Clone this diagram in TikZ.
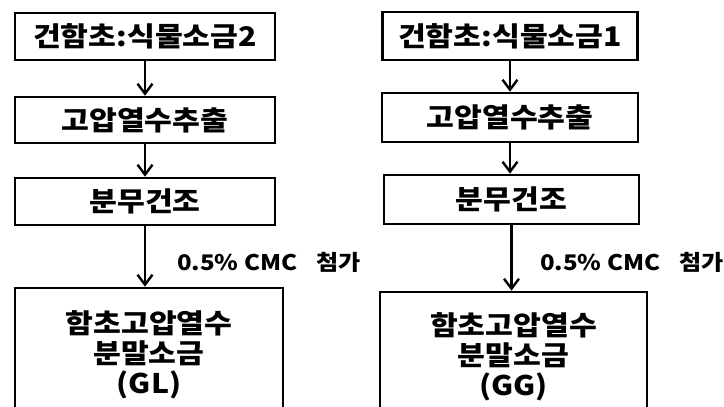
\documentclass[tikz,border=0pt]{standalone}
\usepackage{fontspec}
\setmainfont{Noto Sans CJK KR}[FakeStretch=1.12]
\usetikzlibrary{arrows.meta}
\tikzset{
  box/.style={draw, line width=2.6pt, inner sep=0pt, align=center,
    font=\bfseries\fontsize{27}{30}\selectfont},
  flow/.style={line width=2.4pt, -{Straight Barb[length=10pt,width=15pt,line width=2.4pt]}},
  lbl/.style={anchor=west, inner sep=0pt, font=\bfseries\fontsize{21.5}{24}\selectfont}
}
\begin{document}
\begin{tikzpicture}[x=1pt,y=-1pt]
\clip (0,0) rectangle (724,407);
\fill[white] (0,0) rectangle (724,407);
% left column
\node[box, minimum width=260pt, minimum height=47pt] (L1) at (145,36.5) {건함초:식물소금2};
\node[box, minimum width=260pt, minimum height=46pt] (L2) at (145,120) {고압열수추출};
\node[box, minimum width=260pt, minimum height=47pt] (L3) at (145,201.5) {분무건조};
\node[box, minimum width=268pt, minimum height=134pt] (L4) at (149,355) {함초고압열수\\분말소금\\(GL)};
\draw[flow] (L1.south) -- (L2.north);
\draw[flow] (L2.south) -- (L3.north);
\draw[flow] (L3.south) -- (L3.south |- L4.north);
\node[lbl] (La) at (177,262) {0.5\% CMC\hspace{0.9em}첨가};
% right column
\node[box, minimum width=255pt, minimum height=48pt] (R1) at (510,36) {건함초:식물소금1};
\node[box, minimum width=256pt, minimum height=49pt] (R2) at (510,117.5) {고압열수추출};
\node[box, minimum width=255pt, minimum height=49pt] (R3) at (511.5,199.5) {분무건조};
\node[box, minimum width=267pt, minimum height=130pt] (R4) at (513.5,357) {함초고압열수\\분말소금\\(GG)};
\draw[flow] (R1.south) -- (R2.north);
\draw[flow] (R2.south) -- (R2.south |- R3.north);
\draw[flow] (R3.south) -- (R3.south |- R4.north);
\node[lbl] (Ra) at (540,262) {0.5\% CMC\hspace{0.9em}첨가};
\end{tikzpicture}
\end{document}
